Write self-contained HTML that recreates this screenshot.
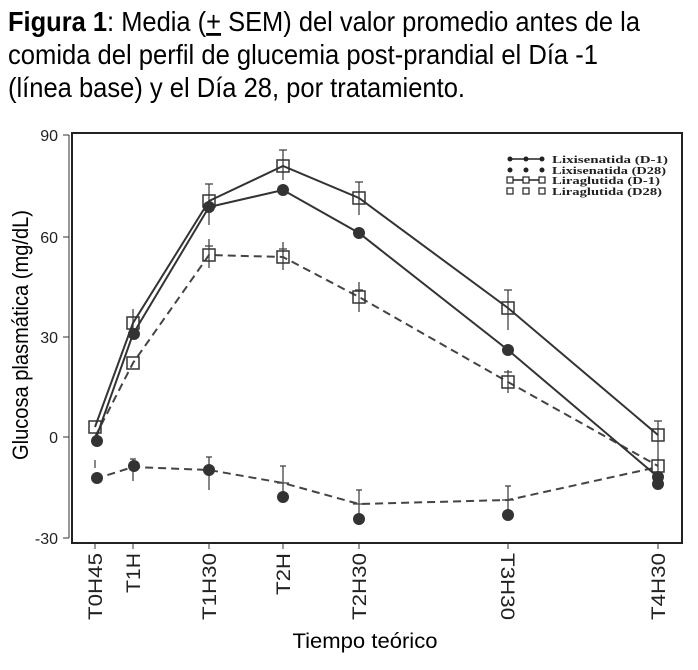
<!DOCTYPE html>
<html><head><meta charset="utf-8"><style>
html,body{margin:0;padding:0;background:#fff;}
svg{display:block;}
</style></head><body>
<svg width="698" height="670" viewBox="0 0 698 670" xmlns="http://www.w3.org/2000/svg" font-family="'Liberation Sans Narrow','Liberation Sans',sans-serif">
<!-- title -->
<text x="8" y="31" font-size="28" textLength="632" lengthAdjust="spacingAndGlyphs"><tspan font-weight="bold">Figura 1</tspan>: Media (<tspan text-decoration="underline">+</tspan> SEM) del valor promedio antes de la</text>
<text x="8" y="64" font-size="28" textLength="590" lengthAdjust="spacingAndGlyphs">comida del perfil de glucemia post-prandial el Día -1</text>
<text x="8" y="97" font-size="28" textLength="457" lengthAdjust="spacingAndGlyphs">(línea base) y el Día 28, por tratamiento.</text>

<!-- frame -->
<rect x="72" y="133" width="610" height="410" fill="none" stroke="#222" stroke-width="2"/>
<line x1="69" y1="135" x2="69" y2="538" stroke="#333" stroke-width="1"/>
<g stroke="#333" stroke-width="1">
<line x1="63" y1="135" x2="69" y2="135"/><line x1="63" y1="237" x2="69" y2="237"/>
<line x1="63" y1="337" x2="69" y2="337"/><line x1="63" y1="437" x2="69" y2="437"/>
<line x1="63" y1="538" x2="69" y2="538"/>
</g>
<g font-size="16" text-anchor="end" fill="#222">
<text x="58" y="141">90</text><text x="58" y="243">60</text><text x="58" y="343">30</text>
<text x="58" y="443">0</text><text x="58" y="544">-30</text>
</g>
<text transform="translate(28,335) rotate(-90)" font-size="22" text-anchor="middle" textLength="250" lengthAdjust="spacingAndGlyphs">Glucosa plasmática (mg/dL)</text>

<!-- x ticks -->
<g stroke="#333"><line x1="95" y1="543" x2="95" y2="549"/><line x1="133" y1="543" x2="133" y2="549"/><line x1="209" y1="543" x2="209" y2="549"/><line x1="283" y1="543" x2="283" y2="549"/><line x1="359" y1="543" x2="359" y2="549"/><line x1="508" y1="543" x2="508" y2="549"/><line x1="658" y1="543" x2="658" y2="549"/></g>
<g font-size="19" fill="#222" text-anchor="end">
<text transform="translate(102,553) rotate(-90)" textLength="67" lengthAdjust="spacingAndGlyphs">T0H45</text>
<text transform="translate(140,553) rotate(-90)" textLength="40" lengthAdjust="spacingAndGlyphs">T1H</text>
<text transform="translate(216,553) rotate(-90)" textLength="67" lengthAdjust="spacingAndGlyphs">T1H30</text>
<text transform="translate(290,553) rotate(-90)" textLength="42" lengthAdjust="spacingAndGlyphs">T2H</text>
<text transform="translate(366,553) rotate(-90)" textLength="67" lengthAdjust="spacingAndGlyphs">T2H30</text>
<text transform="translate(665,553) rotate(-90)" textLength="67" lengthAdjust="spacingAndGlyphs">T4H30</text>
</g>
<text transform="translate(501,553) rotate(90)" font-size="19" fill="#222" textLength="67" lengthAdjust="spacingAndGlyphs">T3H30</text>
<text x="365" y="648" font-size="21" text-anchor="middle" textLength="145" lengthAdjust="spacingAndGlyphs">Tiempo teórico</text>

<!-- error bars -->
<g stroke="#444" stroke-width="1.3">
<line x1="209" y1="184" x2="209" y2="225"/><line x1="283" y1="150" x2="283" y2="180"/>
<line x1="359" y1="182" x2="359" y2="215"/><line x1="508" y1="290" x2="508" y2="330"/>
<line x1="658" y1="421" x2="658" y2="480"/><line x1="133" y1="309" x2="133" y2="338"/>
<line x1="209" y1="239" x2="209" y2="268"/><line x1="283" y1="242" x2="283" y2="270"/>
<line x1="359" y1="282" x2="359" y2="312"/><line x1="508" y1="370" x2="508" y2="393"/>
<line x1="133" y1="459" x2="133" y2="481"/><line x1="209" y1="457" x2="209" y2="490"/>
<line x1="283" y1="466" x2="283" y2="497"/><line x1="359" y1="490" x2="359" y2="525"/>
<line x1="508" y1="486" x2="508" y2="520"/><line x1="95" y1="460" x2="95" y2="468"/>
<line x1="130" y1="459" x2="136" y2="459"/><line x1="206" y1="457" x2="212" y2="457"/>
<line x1="280" y1="466" x2="286" y2="466"/><line x1="356" y1="490" x2="362" y2="490"/>
<line x1="505" y1="486" x2="511" y2="486"/><line x1="205" y1="184" x2="213" y2="184"/>
<line x1="279" y1="150" x2="287" y2="150"/><line x1="355" y1="182" x2="363" y2="182"/>
<line x1="504" y1="290" x2="512" y2="290"/><line x1="654" y1="421" x2="662" y2="421"/>
<line x1="205" y1="246" x2="213" y2="246"/><line x1="279" y1="249" x2="287" y2="249"/>
<line x1="355" y1="290" x2="363" y2="290"/><line x1="504" y1="372" x2="512" y2="372"/>
<line x1="277" y1="483" x2="289" y2="483"/><line x1="353" y1="504" x2="365" y2="504"/>
<line x1="502" y1="500" x2="514" y2="500"/>
</g>

<!-- series -->
<polyline points="95,479 133,467 209,470 283,483 359,504 508,500 658,467" fill="none" stroke="#444" stroke-width="2" stroke-dasharray="8,5"/>
<polyline points="95,437 133,363 209,255 283,257 359,297 508,382 658,466" fill="none" stroke="#444" stroke-width="2" stroke-dasharray="8,5"/>
<polyline points="95,441 133,334 209,207 283,190 359,233 508,350 658,477" fill="none" stroke="#333" stroke-width="2"/>
<polyline points="95,427 133,323 209,201 283,166 359,198 508,308 658,435" fill="none" stroke="#333" stroke-width="2"/>

<g fill="#333">
<circle cx="97" cy="441" r="6"/><circle cx="134" cy="334" r="6"/><circle cx="209" cy="207" r="6"/>
<circle cx="283" cy="190" r="6"/><circle cx="359" cy="233" r="6"/><circle cx="508" cy="350" r="6"/><circle cx="658" cy="477" r="6"/>
<circle cx="97" cy="478" r="6"/><circle cx="134" cy="466" r="6"/><circle cx="209" cy="470" r="6"/>
<circle cx="283" cy="497" r="6"/><circle cx="359" cy="519" r="6"/><circle cx="508" cy="515" r="6"/><circle cx="658" cy="484" r="6"/>
</g>
<g fill="none" stroke="#333" stroke-width="1.5">
<rect x="89" y="421" width="12" height="12"/><rect x="127" y="317" width="12" height="12"/>
<rect x="203" y="195" width="12" height="12"/><rect x="277" y="160" width="12" height="12"/>
<rect x="353" y="192" width="12" height="12"/><rect x="502" y="302" width="12" height="12"/>
<rect x="652" y="429" width="12" height="12"/>
<rect x="127" y="357" width="12" height="12"/><rect x="203" y="249" width="12" height="12"/>
<rect x="277" y="251" width="12" height="12"/><rect x="353" y="291" width="12" height="12"/>
<rect x="502" y="376" width="12" height="12"/><rect x="652" y="460" width="12" height="12"/>
</g>

<!-- legend -->
<g font-family="'Liberation Serif',serif" font-weight="bold" font-size="11" fill="#222">
<line x1="508" y1="159" x2="544" y2="159" stroke="#222" stroke-width="1.5"/>
<circle cx="510" cy="159" r="2.5"/><circle cx="526" cy="159" r="2.5"/><circle cx="542" cy="159" r="2.5"/>
<circle cx="510" cy="170" r="2.5"/><circle cx="526" cy="170" r="2.5"/><circle cx="542" cy="170" r="2.5"/>
<line x1="508" y1="180" x2="544" y2="180" stroke="#222" stroke-width="1.5"/>
<g fill="#fff" stroke="#222" stroke-width="1.2"><rect x="507" y="177" width="6" height="6"/><rect x="523" y="177" width="6" height="6"/><rect x="539" y="177" width="6" height="6"/>
<rect x="507" y="188" width="6" height="6"/><rect x="523" y="188" width="6" height="6"/><rect x="539" y="188" width="6" height="6"/></g>
<text x="552" y="163" textLength="116" lengthAdjust="spacingAndGlyphs">Lixisenatida (D-1)</text>
<text x="552" y="174" textLength="114" lengthAdjust="spacingAndGlyphs">Lixisenatida (D28)</text>
<text x="552" y="184" textLength="108" lengthAdjust="spacingAndGlyphs">Liraglutida (D-1)</text>
<text x="552" y="195" textLength="110" lengthAdjust="spacingAndGlyphs">Liraglutida (D28)</text>
</g>
</svg>
</body></html>
